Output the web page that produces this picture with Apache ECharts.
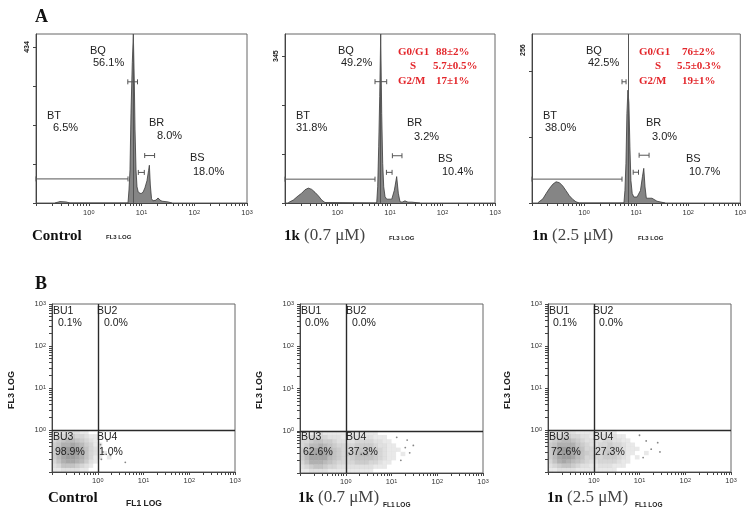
<!DOCTYPE html>
<html><head><meta charset="utf-8">
<script src="https://cdn.jsdelivr.net/npm/echarts@6/dist/echarts.min.js"></script>
<style>html,body{margin:0;padding:0;background:#fff}#c{width:749px;height:517px}</style>
</head><body><div id="c"></div>
<script>
// ================= DATA =================
const decadeValues = [1, 10, 100, 1000];
const decadeExps = ['0', '1', '2', '3'];
const logTickValues = [0.1,0.2,0.3,0.4,0.5,0.6,0.7,0.8,0.9,1,2,3,4,5,6,7,8,9,10,20,30,40,50,60,70,80,90,100,200,300,400,500,600,700,800,900,1000];

// Panel A: DNA histograms (FL3 LOG vs count)
const histA1X = [0.229,0.285,0.37,0.44,5.55,5.79,6.05,6.32,6.69,7.0,7.31,7.54,7.87,8.22,8.69,9.17,9.79,10.7,11.6,12.7,13.6,14.1,14.7,15.5,16.5,18.8,20.6,22.4,24.5,27.9,31.8,37.8];
const histA1Y = [0,4,3,0,0,36,92,250,390,470,334,203,92,45,30,27,26,30,42,62,90,105,50,12,6,8,14,8,5,4,3,0];
const histA2X = [0.116,0.144,0.179,0.208,0.240,0.278,0.323,0.373,0.431,0.500,0.578,5.58,5.83,6.09,6.37,6.65,6.95,7.26,7.59,8.04,8.65,9.57,10.8,12.1,13.4,14.4,15.5,17.0,19.3,22.0,25.9,37.2];
const histA2Y = [1,7,17,23,31,35,32,25,17,7,1,0,38,132,250,397,210,93,38,15,9,9,9,30,62,23,3,2,5,2,2,0];
const histA3X = [0.130,0.162,0.187,0.217,0.251,0.290,0.337,0.389,0.450,0.522,0.604,0.699,0.811,5.83,6.09,6.37,6.65,6.95,7.26,7.59,7.93,8.40,9.04,10.4,12.1,13.2,14.0,14.8,15.7,20.2,25.1,36.1];
const histA3Y = [0.5,7,16,24.5,31.5,35.5,34,28.5,20.6,12.2,6.2,2,0,0,21,66,150,189,167,94,38,16,10,10,21,44,58,27,8,8,3,0];
const countMaxA = [470, 397, 283];
const countTicksA1 = [0,108.5,217,325.5,434];
const countTicksA2 = [0,115,230,345];
const countTicksA3 = [0,110.5,221];
const countLabelA = [434, 345, 256];
// gates: [from, to, count level]
const gatesA1 = [[0.1,5.55,67],[5.5,8.4,337],[8.7,11.3,85],[11.5,17.7,132]];
const gatesA2 = [[0.1,5.18,56],[5.18,8.65,285],[8.55,10.95,72],[11.1,16.9,111]];
const gatesA3 = [[0.1,5.35,40],[5.35,6.4,203],[8.77,11.1,51.5],[11.4,17.7,80]];
const peakMarkerA = [7.0, 6.65, 7.05];
const gateNames = ['BT','BQ','BR','BS'];
const gatePctA1 = ['6.5%','56.1%','8.0%','18.0%'];
const gatePctA2 = ['31.8%','49.2%','3.2%','10.4%'];
const gatePctA3 = ['38.0%','42.5%','3.0%','10.7%'];
const phaseNames = ['G0/G1','S','G2/M'];
const phaseA2 = ['88±2%','5.7±0.5%','17±1%'];
const phaseA3 = ['76±2%','5.5±0.3%','19±1%'];

// Panel B: FL1 LOG vs FL3 LOG dot plots, density read per 0.1-decade cell
const binX = [0.112,0.141,0.178,0.224,0.282,0.355,0.447,0.562,0.708,0.891,1.12,1.41,1.78,2.24,2.82,3.55,4.47,5.62,7.08,8.91,11.2,14.1,17.8,22.4,28.2];
const binY = [0.891,0.708,0.562,0.447,0.355,0.282,0.224,0.178,0.141,0.112];
const densB1 = [
 "1122221100000000000000000",
 "2334433211000000000000000",
 "3456654321000000000000000",
 "4577876431100000000000000",
 "4689987532100000000000000",
 "4689997532110000000000000",
 "4689987531101000000000000",
 "3578876421000000000000000",
 "2355543210000000000000000",
 "1122221100000000000000000"];
const densB2 = [
 "1112211111111111100000000",
 "2233332221122222111000000",
 "3345544322223333221100000",
 "3466765433334444322110000",
 "4578876543345555432111000",
 "4688987543445665432110100",
 "4688886543345555432110000",
 "3577765433334443321100000",
 "2345543322222222111000000",
 "1122221111111111000000000"];
const densB3 = [
 "1122221111111110000000000",
 "2334433221122221100000000",
 "3456654322223322110000000",
 "4577775432233433211000000",
 "4689986533334443211100000",
 "4689987543334543211001000",
 "4689986533334443210100000",
 "3578765432233332110000000",
 "2345543221122211100000000",
 "1122221111111110000000000"];
const outliersB1 = [[1.15,0.45],[1.3,0.3],[1.6,0.55],[1.9,0.25],[4.0,0.17],[1.2,0.2],[2.4,0.38]];
const outliersB2 = [[20,0.4],[25,0.3],[30,0.45],[16,0.2],[22,0.6],[13,0.7]];
const outliersB3 = [[14,0.55],[18,0.35],[25,0.5],[28,0.3],[12,0.22],[10,0.75]];
const quadNames = ['BU1','BU2','BU3','BU4'];
const quadPctB1 = ['0.1%','0.0%','98.9%','1.0%'];
const quadPctB2 = ['0.0%','0.0%','62.6%','37.3%'];
const quadPctB3 = ['0.1%','0.0%','72.6%','27.3%'];
const treatBold = ['Control','1k','1n'];
const treatDose = ['',' (0.7 μM)',' (2.5 μM)'];

// ================= LAYOUT =================
const SANS = 'Liberation Sans, Arial, sans-serif';
const SERIF = 'Liberation Serif, Times New Roman, serif';
const gridsA = [[36,34,211,169],[285,34,210,169],[532,34,210,169]];
const gridsB = [[52,304,183,168],[300,304,183,169],[548,304,183,168]];
const AX = '#444';

function decIdx(v){ return decadeValues.findIndex(d => Math.abs(d - v) / d < 1e-6); }
const supLabel = (margin) => ({
  customValues: decadeValues, margin: margin,
  formatter: v => { const i = decIdx(v); return i < 0 ? '' : '{b|10}{s|' + decadeExps[i] + '}'; },
  rich: { b: {fontSize: 7.5, fontFamily: SANS, color: '#333'},
          s: {fontSize: 5.5, fontFamily: SANS, color: '#333', verticalAlign: 'top', lineHeight: 6} }
});
const logAxis = (gi, margin) => ({
  type: 'log', logBase: 10, min: 0.1, max: 1000, gridIndex: gi,
  axisLine: {show: true, onZero: false, lineStyle: {color: AX, width: 1}},
  axisTick: {show: true, customValues: logTickValues, length: 3, lineStyle: {color: AX}},
  axisLabel: supLabel(margin),
  splitLine: {show: false}, minorTick: {show: false}
});

const grid = [], xAxis = [], yAxis = [], series = [];
const countTicks = [countTicksA1, countTicksA2, countTicksA3];
const hists = [[histA1X, histA1Y],[histA2X, histA2Y],[histA3X, histA3Y]];
const gates = [gatesA1, gatesA2, gatesA3];

gridsA.forEach((g, i) => {
  grid.push({left: g[0], top: g[1], width: g[2], height: g[3], show: true, borderColor: '#666', borderWidth: 1, containLabel: false});
  xAxis.push(logAxis(i, 6));
  yAxis.push({type: 'value', gridIndex: i, min: 0, max: countMaxA[i],
    axisLine: {show: true, lineStyle: {color: AX}},
    axisTick: {show: true, customValues: countTicks[i], length: 3, lineStyle: {color: AX}},
    axisLabel: {customValues: [countLabelA[i]], rotate: 90, margin: 5, fontSize: 7, fontWeight: 'bold', fontFamily: SANS, color: '#222'},
    splitLine: {show: false}});
  const [hx, hy] = hists[i];
  series.push({type: 'line', xAxisIndex: i, yAxisIndex: i, data: hx.map((x, k) => [x, hy[k]]),
    showSymbol: false, symbol: 'none', clip: true,
    lineStyle: {color: '#3a3a3a', width: 0.8}, areaStyle: {color: '#858585', opacity: 1},
    markLine: {silent: true, symbol: 'none', label: {show: false}, lineStyle: {color: '#555', width: 1, type: 'solid'},
      data: [{xAxis: peakMarkerA[i]}]}, z: 2});
  series.push({type: 'custom', xAxisIndex: i, yAxisIndex: i, data: gates[i], encode: {x: [0, 1], y: 2}, z: 3,
    renderItem: (params, api) => {
      const a = api.coord([api.value(0), api.value(2)]);
      const b = api.coord([api.value(1), api.value(2)]);
      const h = 2.5, st = {stroke: '#555', lineWidth: 1};
      return {type: 'group', children: [
        {type: 'line', shape: {x1: a[0], y1: a[1], x2: b[0], y2: b[1]}, style: st},
        {type: 'line', shape: {x1: a[0], y1: a[1]-h, x2: a[0], y2: a[1]+h}, style: st},
        {type: 'line', shape: {x1: b[0], y1: b[1]-h, x2: b[0], y2: b[1]+h}, style: st}]};
    }});
});

const dens = [densB1, densB2, densB3];
const outs = [outliersB1, outliersB2, outliersB3];
gridsB.forEach((g, j) => {
  const i = j + 3;
  grid.push({left: g[0], top: g[1], width: g[2], height: g[3], show: true, borderColor: '#666', borderWidth: 1});
  xAxis.push(logAxis(i, 5));
  const ya = logAxis(i, 6); ya.axisLabel.margin = 6;
  yAxis.push(ya);
  const cells = [];
  dens[j].forEach((row, r) => { for (let c = 0; c < row.length; c++) { const d = +row[c]; if (d > 0) cells.push([binX[c], binY[r], d]); } });
  series.push({type: 'scatter', xAxisIndex: i, yAxisIndex: i, data: cells, symbol: 'rect', symbolSize: [4.7, 4.3], z: 1, silent: true,
    itemStyle: {color: p => 'rgba(105,105,105,' + (0.1 + p.data[2] / 9 * 0.72).toFixed(3) + ')'},
    markLine: {silent: true, symbol: 'none', label: {show: false}, lineStyle: {color: '#2a2a2a', width: 1.4, type: 'solid'},
      data: [{xAxis: 1}, {yAxis: 1}]}});
  series.push({type: 'scatter', xAxisIndex: i, yAxisIndex: i, data: outs[j], symbolSize: 1.8, z: 1, silent: true,
    itemStyle: {color: '#666'}});
});

// ---- text annotations ----
const G = [];
function T(x, y, text, font, fill, extra) {
  G.push(Object.assign({type: 'text', x: x, y: y, z: 100, silent: true,
    style: {text: text, font: font, fill: fill || '#222', textAlign: 'left', textVerticalAlign: 'middle', align: 'left', verticalAlign: 'middle'}}, extra || {}));
}
T(35, 17, 'A', 'bold 18px ' + SERIF, '#111');
T(35, 284, 'B', 'bold 18px ' + SERIF, '#111');
const LF = '11px ' + SANS;
const gatePos = [
  [[47,116,53,128],[90,51,93,63],[149,123,157,136],[190,158,193,172]],
  [[296,116,296,128],[338,51,341,63],[407,123,414,137],[438,159,442,172]],
  [[543,116,545,128],[586,51,588,63],[646,123,652,137],[686,159,689,172]]];
const gatePct = [gatePctA1, gatePctA2, gatePctA3];
gatePos.forEach((pp, i) => pp.forEach((p, k) => { T(p[0], p[1], gateNames[k], LF); T(p[2], p[3], gatePct[i][k], LF); }));
const RF = 'bold 11px ' + SERIF, RED = '#e3262b';
const phasePos = [[[398,436],[410,433],[398,436]], [[639,682],[655,677],[639,682]]];
const phaseY = [52, 66, 81];
[phaseA2, phaseA3].forEach((vals, i) => vals.forEach((v, k) => {
  T(phasePos[i][k][0], phaseY[k], phaseNames[k], RF, RED); T(phasePos[i][k][1], phaseY[k], v, RF, RED);
}));
const quadPos = [[52,97],[300,346],[548,593]];
const quadPctOff = [[6,7],[5,6],[5,6]];
const quadPcts = [quadPctB1, quadPctB2, quadPctB3];
const QF = '10.5px ' + SANS;
quadPos.forEach((qp, j) => {
  const p = quadPcts[j];
  T(qp[0]+1, 311, quadNames[0], QF); T(qp[0]+quadPctOff[j][0], 323, p[0], QF);
  T(qp[1], 311, quadNames[1], QF); T(qp[1]+quadPctOff[j][1], 323, p[1], QF);
  T(qp[0]+1, 437, quadNames[2], QF); T(qp[0]+3, 452, p[2], QF);
  T(qp[1], 437, quadNames[3], QF); T(qp[1]+2, 452, p[3], QF);
  G.push({type: 'text', x: quadPos[j][0] - 40, y: 390, rotation: Math.PI / 2, z: 100, silent: true,
    style: {text: 'FL3 LOG', font: 'bold 9px ' + SANS, fill: '#222', textAlign: 'center', textVerticalAlign: 'middle', align: 'center', verticalAlign: 'middle'}});
});
// treatment labels
const treatRich = {b: {font: 'bold 15px ' + SERIF, fill: '#111'}, n: {font: '17px ' + SERIF, fill: '#444'}};
function TR(x, y, i) {
  G.push({type: 'text', x: x, y: y, z: 100, silent: true,
    style: {text: '{b|' + treatBold[i] + '}' + (treatDose[i] ? '{n|' + treatDose[i] + '}' : ''), rich: treatRich,
      textAlign: 'left', textVerticalAlign: 'middle', align: 'left', verticalAlign: 'middle'}});
}
TR(32, 236, 0); TR(284, 236, 1); TR(532, 236, 2);
TR(48, 498, 0); TR(298, 498, 1); TR(547, 498, 2);
T(106, 237, 'FL3 LOG', 'bold 6px ' + SANS, '#222');
T(389, 238, 'FL3 LOG', 'bold 6px ' + SANS, '#222');
T(638, 238, 'FL3 LOG', 'bold 6px ' + SANS, '#222');
T(126, 504, 'FL1 LOG', 'bold 8.5px ' + SANS, '#222');
T(383, 505, 'FL1 LOG', 'bold 6.5px ' + SANS, '#222');
T(635, 505, 'FL1 LOG', 'bold 6.5px ' + SANS, '#222');

const chart = echarts.init(document.getElementById('c'), null, {renderer: 'canvas'});
chart.setOption({backgroundColor: '#fff', animation: false, grid, xAxis, yAxis, series, graphic: {elements: G}});
</script></body></html>
